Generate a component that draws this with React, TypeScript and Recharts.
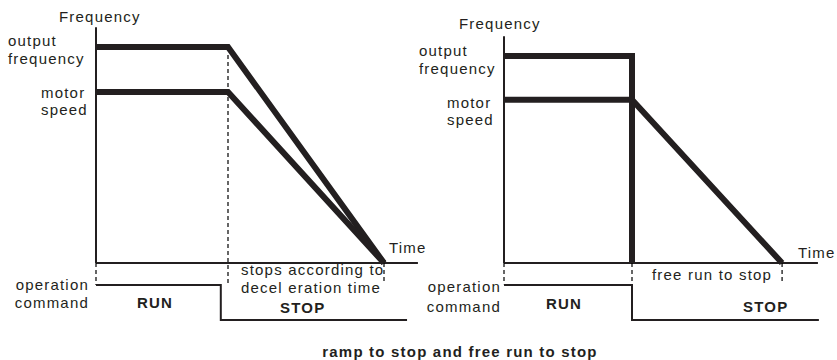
import React from 'react';
import { LineChart, Line, XAxis, YAxis, ReferenceLine } from 'recharts';

// ramp to stop (left)
const rampTime = [0, 4.125, 9];
const rampOutput = [48, 48, 0];
const rampMotor = [38, 38, 0];
const rampCmdTime = [0, 3.9, 3.9, 9.72];
const rampCmd = [1, 1, 0, 0];

// free run to stop (right)
const freeOutTime = [0, 4, 4];
const freeOutput = [46, 46, 0];
const freeMotorTime = [0, 4, 8.69];
const freeMotor = [36.3, 36.3, 0];
const freeCmdTime = [0, 4, 4, 9.84];
const freeCmd = [1, 1, 0, 0];

const ink = '#231f20';
const font = '"Liberation Sans", Arial, sans-serif';

const pts = (t: number[], v: number[]) => t.map((x, i) => ({ t: x, v: v[i] }));

type PanelProps = {
  left: number;
  width: number;
  plotLeft: number;
  xMax: number;
  outData: { t: number; v: number }[];
  motorData: { t: number; v: number }[];
  cmdData: { t: number; v: number }[];
  axisTop: number;
  axisEnd: number;
  dashes: { x: number; top: number; bottom: number }[];
};

const Panel = ({ left, width, plotLeft, xMax, outData, motorData, cmdData, axisTop, axisEnd, dashes }: PanelProps) => {
  const plotW = xMax * 32;
  return (
    <div style={{ position: 'absolute', left, top: 0 }}>
      <LineChart
        width={width}
        height={360}
        margin={{ left: plotLeft, right: width - plotLeft - plotW, top: 15.5, bottom: 29.5 }}
      >
        <XAxis type="number" dataKey="t" domain={[0, xMax]} hide />
        <YAxis yAxisId="f" type="number" domain={[-15, 55]} hide />
        <YAxis yAxisId="cmd" type="number" domain={[-0.3, 8.7]} hide />
        {/* axes */}
        <ReferenceLine yAxisId="f" segment={[{ x: 0, y: 0 }, { x: 0, y: axisTop }]} stroke={ink} strokeWidth={2} />
        <ReferenceLine yAxisId="f" segment={[{ x: 0, y: 0 }, { x: axisEnd, y: 0 }]} stroke={ink} strokeWidth={2} />
        {dashes.map((d, i) => (
          <ReferenceLine
            key={i}
            yAxisId="f"
            segment={[{ x: d.x, y: d.top }, { x: d.x, y: d.bottom }]}
            stroke="#000"
            strokeWidth={1.2}
            strokeDasharray="4 3"
          />
        ))}
        <Line yAxisId="f" data={outData} dataKey="v" type="linear" stroke={ink} strokeWidth={6}
          strokeLinejoin="miter" dot={false} isAnimationActive={false} />
        <Line yAxisId="f" data={motorData} dataKey="v" type="linear" stroke={ink} strokeWidth={6}
          strokeLinejoin="miter" dot={false} isAnimationActive={false} />
        <Line yAxisId="cmd" data={cmdData} dataKey="v" type="linear" stroke={ink} strokeWidth={2}
          dot={false} isAnimationActive={false} />
      </LineChart>
    </div>
  );
};

const T = ({ x, y, children, anchor = 'start', bold = false }: any) => (
  <text x={x} y={y} textAnchor={anchor} fontWeight={bold ? 'bold' : 'normal'} fontSize={15}
    letterSpacing={1.2} fill={ink} fontFamily={font}>{children}</text>
);

const App = () => (
  <div style={{ position: 'absolute', left: 0, top: 0, width: 837, height: 360, background: '#fff', overflow: 'hidden' }}>
    <Panel
      left={0}
      width={440}
      plotLeft={96}
      xMax={10.5}
      outData={pts(rampTime, rampOutput)}
      motorData={pts(rampTime, rampMotor)}
      cmdData={pts(rampCmdTime, rampCmd)}
      axisTop={52.4}
      axisEnd={10.06}
      dashes={[
        { x: 0, top: 0, bottom: -4.9 },
        { x: 4.125, top: 46.2, bottom: -4.7 },
        { x: 9, top: 0, bottom: -4.5 },
      ]}
    />
    <Panel
      left={420}
      width={417}
      plotLeft={84}
      xMax={10.2}
      outData={pts(freeOutTime, freeOutput)}
      motorData={pts(freeMotorTime, freeMotor)}
      cmdData={pts(freeCmdTime, freeCmd)}
      axisTop={50.4}
      axisEnd={9.81}
      dashes={[
        { x: 0, top: 0, bottom: -4.7 },
        { x: 4, top: 0, bottom: -4.9 },
        { x: 8.69, top: 0, bottom: -4.5 },
      ]}
    />
    <svg width={837} height={360} style={{ position: 'absolute', left: 0, top: 0, pointerEvents: 'none' }}>
      {/* left panel */}
      <T x={59} y={22}>Frequency</T>
      <T x={8} y={46}>output</T>
      <T x={8} y={64}>frequency</T>
      <T x={41} y={98}>motor</T>
      <T x={41} y={115}>speed</T>
      <T x={389} y={253}>Time</T>
      <T x={241} y={275}>stops according to</T>
      <T x={241} y={293}>decel eration time</T>
      <T x={280} y={313} bold>STOP</T>
      <T x={89} y={290} anchor="end">operation</T>
      <T x={89} y={308} anchor="end">command</T>
      <T x={137} y={308} bold>RUN</T>
      {/* right panel */}
      <T x={459} y={29}>Frequency</T>
      <T x={419} y={56}>output</T>
      <T x={419} y={74}>frequency</T>
      <T x={447} y={108}>motor</T>
      <T x={447} y={125}>speed</T>
      <T x={798} y={258}>Time</T>
      <T x={652} y={280}>free run to stop</T>
      <T x={501} y={292} anchor="end">operation</T>
      <T x={501} y={312} anchor="end">command</T>
      <T x={546} y={309} bold>RUN</T>
      <T x={743} y={312} bold>STOP</T>
      <T x={460} y={357} anchor="middle" bold>ramp to stop and free run to stop</T>
    </svg>
  </div>
);

export default App;
